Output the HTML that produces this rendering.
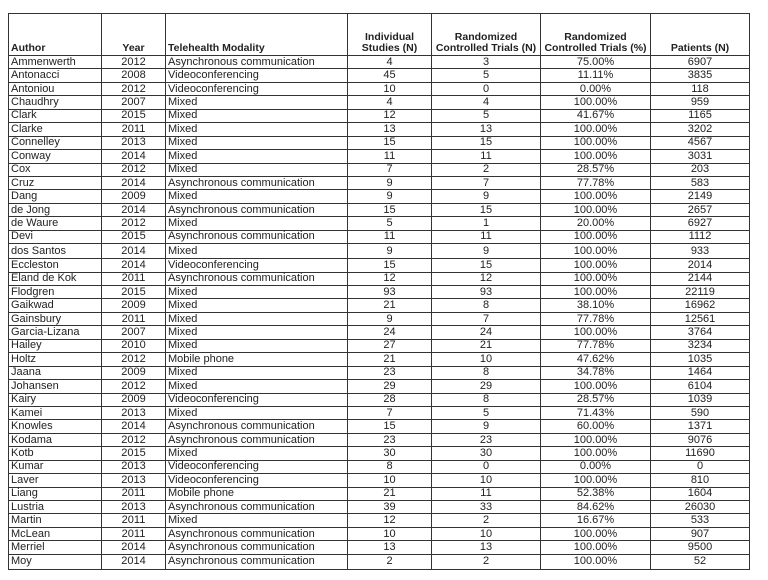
<!DOCTYPE html>
<html><head><style>
body{margin:0;background:#fff;width:768px;height:580px;overflow:hidden}
table{position:absolute;left:8px;top:13px;border-collapse:collapse;font-family:"Liberation Sans",Arial,sans-serif;font-size:11px;color:#222;table-layout:fixed}
td,th{border:1px solid #333;padding:0 2px;height:12.45px;line-height:11px;white-space:nowrap;overflow:hidden}
th{font-weight:bold;height:40px;vertical-align:bottom;padding:0 0 1px 0;font-size:10.5px}
th:first-child,th:nth-child(3){padding-left:2px}
td.c{text-align:center}
tr.t td{height:14px}
</style></head><body>
<table>
<colgroup><col style="width:93px"><col style="width:64px"><col style="width:182px"><col style="width:84px"><col style="width:109px"><col style="width:110px"><col style="width:99px"></colgroup>
<tr><th style="text-align:left">Author</th><th>Year</th><th style="text-align:left">Telehealth Modality</th><th>Individual<br>Studies (N)</th><th>Randomized<br>Controlled Trials (N)</th><th>Randomized<br>Controlled Trials (%)</th><th>Patients (N)</th></tr>
<tr><td>Ammenwerth</td><td class=c>2012</td><td>Asynchronous communication</td><td class=c>4</td><td class=c>3</td><td class=c>75.00%</td><td class=c>6907</td></tr>
<tr><td>Antonacci</td><td class=c>2008</td><td>Videoconferencing</td><td class=c>45</td><td class=c>5</td><td class=c>11.11%</td><td class=c>3835</td></tr>
<tr><td>Antoniou</td><td class=c>2012</td><td>Videoconferencing</td><td class=c>10</td><td class=c>0</td><td class=c>0.00%</td><td class=c>118</td></tr>
<tr><td>Chaudhry</td><td class=c>2007</td><td>Mixed</td><td class=c>4</td><td class=c>4</td><td class=c>100.00%</td><td class=c>959</td></tr>
<tr><td>Clark</td><td class=c>2015</td><td>Mixed</td><td class=c>12</td><td class=c>5</td><td class=c>41.67%</td><td class=c>1165</td></tr>
<tr><td>Clarke</td><td class=c>2011</td><td>Mixed</td><td class=c>13</td><td class=c>13</td><td class=c>100.00%</td><td class=c>3202</td></tr>
<tr><td>Connelley</td><td class=c>2013</td><td>Mixed</td><td class=c>15</td><td class=c>15</td><td class=c>100.00%</td><td class=c>4567</td></tr>
<tr><td>Conway</td><td class=c>2014</td><td>Mixed</td><td class=c>11</td><td class=c>11</td><td class=c>100.00%</td><td class=c>3031</td></tr>
<tr><td>Cox</td><td class=c>2012</td><td>Mixed</td><td class=c>7</td><td class=c>2</td><td class=c>28.57%</td><td class=c>203</td></tr>
<tr><td>Cruz</td><td class=c>2014</td><td>Asynchronous communication</td><td class=c>9</td><td class=c>7</td><td class=c>77.78%</td><td class=c>583</td></tr>
<tr><td>Dang</td><td class=c>2009</td><td>Mixed</td><td class=c>9</td><td class=c>9</td><td class=c>100.00%</td><td class=c>2149</td></tr>
<tr><td>de Jong</td><td class=c>2014</td><td>Asynchronous communication</td><td class=c>15</td><td class=c>15</td><td class=c>100.00%</td><td class=c>2657</td></tr>
<tr><td>de Waure</td><td class=c>2012</td><td>Mixed</td><td class=c>5</td><td class=c>1</td><td class=c>20.00%</td><td class=c>6927</td></tr>
<tr><td>Devi</td><td class=c>2015</td><td>Asynchronous communication</td><td class=c>11</td><td class=c>11</td><td class=c>100.00%</td><td class=c>1112</td></tr>
<tr class=t><td>dos Santos</td><td class=c>2014</td><td>Mixed</td><td class=c>9</td><td class=c>9</td><td class=c>100.00%</td><td class=c>933</td></tr>
<tr><td>Eccleston</td><td class=c>2014</td><td>Videoconferencing</td><td class=c>15</td><td class=c>15</td><td class=c>100.00%</td><td class=c>2014</td></tr>
<tr><td>Eland de Kok</td><td class=c>2011</td><td>Asynchronous communication</td><td class=c>12</td><td class=c>12</td><td class=c>100.00%</td><td class=c>2144</td></tr>
<tr><td>Flodgren</td><td class=c>2015</td><td>Mixed</td><td class=c>93</td><td class=c>93</td><td class=c>100.00%</td><td class=c>22119</td></tr>
<tr><td>Gaikwad</td><td class=c>2009</td><td>Mixed</td><td class=c>21</td><td class=c>8</td><td class=c>38.10%</td><td class=c>16962</td></tr>
<tr><td>Gainsbury</td><td class=c>2011</td><td>Mixed</td><td class=c>9</td><td class=c>7</td><td class=c>77.78%</td><td class=c>12561</td></tr>
<tr><td>Garcia-Lizana</td><td class=c>2007</td><td>Mixed</td><td class=c>24</td><td class=c>24</td><td class=c>100.00%</td><td class=c>3764</td></tr>
<tr><td>Hailey</td><td class=c>2010</td><td>Mixed</td><td class=c>27</td><td class=c>21</td><td class=c>77.78%</td><td class=c>3234</td></tr>
<tr><td>Holtz</td><td class=c>2012</td><td>Mobile phone</td><td class=c>21</td><td class=c>10</td><td class=c>47.62%</td><td class=c>1035</td></tr>
<tr><td>Jaana</td><td class=c>2009</td><td>Mixed</td><td class=c>23</td><td class=c>8</td><td class=c>34.78%</td><td class=c>1464</td></tr>
<tr><td>Johansen</td><td class=c>2012</td><td>Mixed</td><td class=c>29</td><td class=c>29</td><td class=c>100.00%</td><td class=c>6104</td></tr>
<tr><td>Kairy</td><td class=c>2009</td><td>Videoconferencing</td><td class=c>28</td><td class=c>8</td><td class=c>28.57%</td><td class=c>1039</td></tr>
<tr><td>Kamei</td><td class=c>2013</td><td>Mixed</td><td class=c>7</td><td class=c>5</td><td class=c>71.43%</td><td class=c>590</td></tr>
<tr><td>Knowles</td><td class=c>2014</td><td>Asynchronous communication</td><td class=c>15</td><td class=c>9</td><td class=c>60.00%</td><td class=c>1371</td></tr>
<tr><td>Kodama</td><td class=c>2012</td><td>Asynchronous communication</td><td class=c>23</td><td class=c>23</td><td class=c>100.00%</td><td class=c>9076</td></tr>
<tr><td>Kotb</td><td class=c>2015</td><td>Mixed</td><td class=c>30</td><td class=c>30</td><td class=c>100.00%</td><td class=c>11690</td></tr>
<tr><td>Kumar</td><td class=c>2013</td><td>Videoconferencing</td><td class=c>8</td><td class=c>0</td><td class=c>0.00%</td><td class=c>0</td></tr>
<tr><td>Laver</td><td class=c>2013</td><td>Videoconferencing</td><td class=c>10</td><td class=c>10</td><td class=c>100.00%</td><td class=c>810</td></tr>
<tr><td>Liang</td><td class=c>2011</td><td>Mobile phone</td><td class=c>21</td><td class=c>11</td><td class=c>52.38%</td><td class=c>1604</td></tr>
<tr><td>Lustria</td><td class=c>2013</td><td>Asynchronous communication</td><td class=c>39</td><td class=c>33</td><td class=c>84.62%</td><td class=c>26030</td></tr>
<tr><td>Martin</td><td class=c>2011</td><td>Mixed</td><td class=c>12</td><td class=c>2</td><td class=c>16.67%</td><td class=c>533</td></tr>
<tr><td>McLean</td><td class=c>2011</td><td>Asynchronous communication</td><td class=c>10</td><td class=c>10</td><td class=c>100.00%</td><td class=c>907</td></tr>
<tr><td>Merriel</td><td class=c>2014</td><td>Asynchronous communication</td><td class=c>13</td><td class=c>13</td><td class=c>100.00%</td><td class=c>9500</td></tr>
<tr class=t><td>Moy</td><td class=c>2014</td><td>Asynchronous communication</td><td class=c>2</td><td class=c>2</td><td class=c>100.00%</td><td class=c>52</td></tr>
</table>
</body></html>
